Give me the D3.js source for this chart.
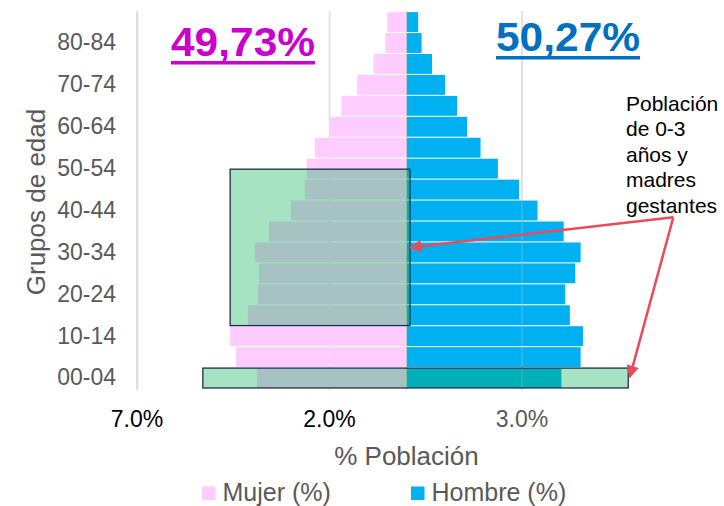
<!DOCTYPE html>
<html>
<head>
<meta charset="utf-8">
<script src="https://cdn.jsdelivr.net/npm/d3@7"></script>
<style>
  body { margin: 0; background: #fff; }
  svg { display: block; font-family: "Liberation Sans", Arial, sans-serif; }
</style>
</head>
<body>
<svg id="chart" width="724" height="506"></svg>
<script>
// age groups, bottom to top
const grupos = ["00-04","05-09","10-14","15-19","20-24","25-29","30-34","35-39","40-44",
                "45-49","50-54","55-59","60-64","65-69","70-74","75-79","80-84","85+"];
// % de la población total
const mujer  = [3.88,4.43,4.58,4.12,3.86,3.83,3.94,3.57,3.00,2.64,2.59,2.38,2.01,1.69,1.28,0.85,0.55,0.50];
const hombre = [4.01,4.51,4.57,4.23,4.11,4.37,4.51,4.07,3.39,2.91,2.36,1.91,1.56,1.30,0.99,0.65,0.38,0.29];
const xTicks = [-7, -2, 3];
const xTickLabels = ["7.0%", "2.0%", "3.0%"];
const totalMujer = "49,73%";
const totalHombre = "50,27%";
const notaLineas = ["Población", "de 0-3", "años y", "madres", "gestantes"];

const svg = d3.select("#chart");
const gray = "#595959", grid = "#d9d9d9";

const x = d3.scaleLinear().domain([-7, 7]).range([137, 676]);
const y = d3.scaleBand()
    .domain(grupos.slice().reverse())
    .range([11.6, 388.5])
    .paddingInner(0.05)
    .paddingOuter(0.025);

// gridlines
svg.append("g").selectAll("line")
  .data(xTicks)
  .join("line")
    .attr("x1", d => x(d)).attr("x2", d => x(d))
    .attr("y1", 11).attr("y2", 390)
    .attr("stroke", grid).attr("stroke-width", 1.5);

const rows = grupos.map((g, i) => ({ g, m: mujer[i], h: hombre[i] }));

svg.append("g").selectAll("rect")
  .data(rows)
  .join("rect")
    .attr("x", d => x(-d.m))
    .attr("y", d => y(d.g))
    .attr("width", d => x(0) - x(-d.m) - 0.5)
    .attr("height", y.bandwidth())
    .attr("fill", "#FFCCFF");

svg.append("g").selectAll("rect")
  .data(rows)
  .join("rect")
    .attr("x", x(0) + 0.5)
    .attr("y", d => y(d.g))
    .attr("width", d => x(d.h) - x(0))
    .attr("height", y.bandwidth())
    .attr("fill", "#00B0F0");

// faint gridlines seen through the bars
svg.append("g").selectAll("line")
  .data(xTicks)
  .join("line")
    .attr("x1", d => x(d)).attr("x2", d => x(d))
    .attr("y1", 11).attr("y2", 390)
    .attr("stroke", "#e8e8e8").attr("stroke-opacity", 0.35).attr("stroke-width", 1);

// center axis
svg.append("line")
  .attr("x1", x(0)).attr("x2", x(0))
  .attr("y1", 11).attr("y2", 390)
  .attr("stroke", "#c8c8c8").attr("stroke-width", 1);

// y axis
const yAxis = d3.axisLeft(y)
  .tickValues(grupos.filter((_, i) => i % 2 === 0))
  .tickSize(0)
  .tickPadding(21);
svg.append("g")
  .attr("transform", `translate(${x(-7)},0)`)
  .call(yAxis)
  .call(g => g.select(".domain").attr("stroke", grid).attr("stroke-width", 1.5))
  .call(g => g.selectAll("text")
      .attr("fill", gray)
      .attr("font-size", 23)
      .attr("font-family", "Liberation Sans, Arial, sans-serif"));

// x tick labels
svg.append("g").selectAll("text")
  .data(xTicks)
  .join("text")
    .attr("x", d => x(d))
    .attr("y", 427)
    .attr("text-anchor", "middle")
    .attr("font-size", 23)
    .attr("fill", (d, i) => i < 2 ? "#000" : gray)
    .text((d, i) => xTickLabels[i]);

svg.append("text")
  .attr("x", x(0)).attr("y", 465)
  .attr("text-anchor", "middle")
  .attr("font-size", 26).attr("fill", gray)
  .text("% Población");

svg.append("text")
  .attr("transform", "translate(45,202) rotate(-90)")
  .attr("text-anchor", "middle")
  .attr("font-size", 26).attr("fill", gray)
  .text("Grupos de edad");

// annotation boxes
const rowY = (g, f) => y(g) + f * y.step();
const boxes = [
  { x0: -4.58, x1: 0.09, g0: "50-54", f0: 0.5, g1: "15-19", f1: 0.97 },
  { x0: -5.29, x1: 5.76, g0: "00-04", f0: 0.0, g1: "00-04", f1: y.bandwidth() / y.step() }
];
svg.append("g").selectAll("rect")
  .data(boxes)
  .join("rect")
    .attr("x", d => x(d.x0))
    .attr("y", d => rowY(d.g0, d.f0))
    .attr("width", d => x(d.x1) - x(d.x0))
    .attr("height", d => rowY(d.g1, d.f1) - rowY(d.g0, d.f0))
    .attr("fill", "#00B050").attr("fill-opacity", 0.35)
    .attr("stroke", "#1F2D4D").attr("stroke-width", 1.3);

// arrows
const defs = svg.append("defs");
defs.append("marker")
  .attr("id", "arrow")
  .attr("viewBox", "0 0 10 10")
  .attr("refX", 9).attr("refY", 5)
  .attr("markerWidth", 6).attr("markerHeight", 5)
  .attr("markerUnits", "strokeWidth")
  .attr("orient", "auto")
  .append("path").attr("d", "M0,0 L10,5 L0,10 z").attr("fill", "#E84C5A");

const vertice = [6.93, "35-39", -0.2];
const puntas = [[0.09, "30-34", 0.24], [5.8, "00-04", 0.43]];
puntas.forEach(p => {
  svg.append("line")
    .attr("x1", x(vertice[0])).attr("y1", rowY(vertice[1], vertice[2]))
    .attr("x2", x(p[0])).attr("y2", rowY(p[1], p[2]))
    .attr("stroke", "#E84C5A").attr("stroke-width", 2.5)
    .attr("marker-end", "url(#arrow)");
});

svg.append("g").selectAll("text")
  .data(notaLineas)
  .join("text")
    .attr("x", 626)
    .attr("y", (d, i) => 110.7 + i * 25.5)
    .attr("font-size", 21)
    .attr("fill", "#000")
    .text(d => d);

// totals
const tot = [
  { t: totalMujer, x0: 171, w: 144, base: 56, c: "#CC00CC" },
  { t: totalHombre, x0: 496, w: 144, base: 51, c: "#0070C0" }
];
tot.forEach(d => {
  svg.append("text")
    .attr("x", d.x0).attr("y", d.base)
    .attr("font-size", 41).attr("font-weight", "bold")
    .attr("fill", d.c)
    .attr("textLength", d.w).attr("lengthAdjust", "spacingAndGlyphs")
    .text(d.t);
  svg.append("rect")
    .attr("x", d.x0).attr("y", d.base + 5)
    .attr("width", d.w).attr("height", 3.5)
    .attr("fill", d.c);
});

// legend
const leyenda = [
  { t: "Mujer (%)", c: "#FFCCFF", x0: 202 },
  { t: "Hombre (%)", c: "#00B0F0", x0: 411 }
];
const lg = svg.append("g").selectAll("g").data(leyenda).join("g");
lg.append("rect")
  .attr("x", d => d.x0).attr("y", 486.5)
  .attr("width", 13.5).attr("height", 13.5)
  .attr("fill", d => d.c);
lg.append("text")
  .attr("x", d => d.x0 + 20.5).attr("y", 500.5)
  .attr("font-size", 25).attr("fill", gray)
  .text(d => d.t);
</script>
</body>
</html>
